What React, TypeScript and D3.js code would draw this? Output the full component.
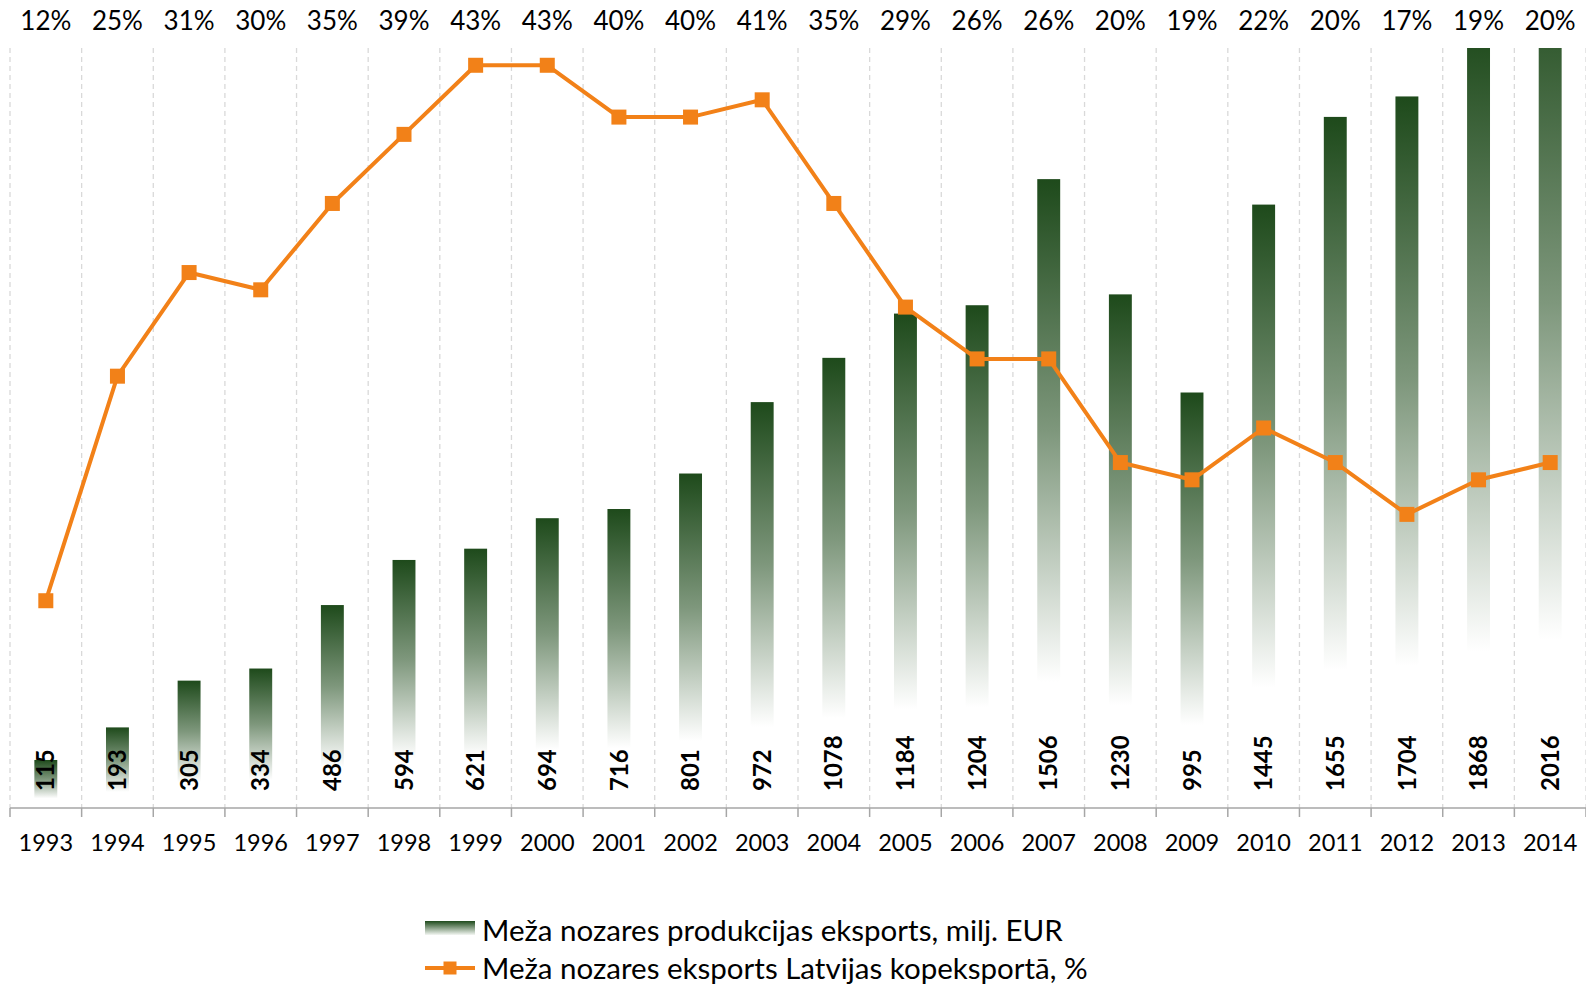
import React, { useEffect, useRef } from 'react';
import * as d3 from 'd3';

const years = ['1993', '1994', '1995', '1996', '1997', '1998', '1999', '2000', '2001', '2002', '2003',
  '2004', '2005', '2006', '2007', '2008', '2009', '2010', '2011', '2012', '2013', '2014'];

// Meža nozares produkcijas eksports, milj. EUR
const exportValues = [115, 193, 305, 334, 486, 594, 621, 694, 716, 801, 972,
  1078, 1184, 1204, 1506, 1230, 995, 1445, 1655, 1704, 1868, 2016];

// Meža nozares eksports Latvijas kopeksportā, %
const sharePercent = [12, 25, 31, 30, 35, 39, 43, 43, 40, 40, 41,
  35, 29, 26, 26, 20, 19, 22, 20, 17, 19, 20];

const barLegend = 'Meža nozares produkcijas eksports, milj. EUR';
const lineLegend = 'Meža nozares eksports Latvijas kopeksportā, %';

const W = 1586, H = 985;
const FONT = 'Lato, "Noto Sans", sans-serif';
const GREEN = '#1e4a1b';
const ORANGE = '#f28118';

export default function App() {
  const ref = useRef<SVGSVGElement>(null);

  useEffect(() => {
    const svg = d3.select(ref.current);
    svg.selectAll('*').remove();

    const top = 48, bottom = 808, left = 10, right = 1586;

    const x = d3.scaleBand<string>().domain(years).range([left, right]).paddingInner(0);
    const yBar = d3.scaleLinear().domain([0, 1820]).range([bottom, top]);
    const yLine = d3.scaleLinear().domain([0, 44]).range([bottom, top]);
    const cx = (d: string) => (x(d) as number) + x.bandwidth() / 2;

    const defs = svg.append('defs');
    const grad = defs.append('linearGradient')
      .attr('id', 'barGrad')
      .attr('x1', 0).attr('y1', 0).attr('x2', 0).attr('y2', 1);
    grad.append('stop').attr('offset', '0%').attr('stop-color', GREEN);
    grad.append('stop').attr('offset', '40%').attr('stop-color', '#7e977c');
    grad.append('stop').attr('offset', '80%').attr('stop-color', '#ffffff');
    grad.append('stop').attr('offset', '100%').attr('stop-color', '#ffffff');

    const legGrad = defs.append('linearGradient')
      .attr('id', 'legGrad')
      .attr('x1', 0).attr('y1', 0).attr('x2', 0).attr('y2', 1);
    legGrad.append('stop').attr('offset', '0%').attr('stop-color', GREEN);
    legGrad.append('stop').attr('offset', '100%').attr('stop-color', '#f4f7f3');

    defs.append('clipPath').attr('id', 'plotClip')
      .append('rect')
      .attr('x', left).attr('y', top)
      .attr('width', right - left).attr('height', bottom - top);

    // category gridlines (dashed) at band boundaries
    const bounds = years.map(d => x(d) as number).concat([right]);
    svg.append('g')
      .selectAll('line')
      .data(bounds)
      .enter()
      .append('line')
      .attr('x1', d => d).attr('x2', d => d)
      .attr('y1', top).attr('y2', bottom)
      .attr('stroke', '#d9d9d9')
      .attr('stroke-width', 1.3)
      .attr('stroke-dasharray', '5,4');

    // bars
    const barW = x.bandwidth() * 0.32;
    svg.append('g')
      .attr('clip-path', 'url(#plotClip)')
      .selectAll('rect')
      .data(exportValues)
      .enter()
      .append('rect')
      .attr('x', (d, i) => cx(years[i]) - barW / 2)
      .attr('y', d => yBar(d))
      .attr('width', barW)
      .attr('height', d => bottom - yBar(d))
      .attr('fill', 'url(#barGrad)');

    // axis line + ticks
    svg.append('line')
      .attr('x1', left).attr('x2', right)
      .attr('y1', bottom).attr('y2', bottom)
      .attr('stroke', '#a6a6a6').attr('stroke-width', 1.5);
    svg.append('g')
      .selectAll('line')
      .data(bounds)
      .enter()
      .append('line')
      .attr('x1', d => d).attr('x2', d => d)
      .attr('y1', bottom).attr('y2', bottom + 9)
      .attr('stroke', '#a6a6a6').attr('stroke-width', 1.5);

    // year labels
    svg.append('g')
      .selectAll('text')
      .data(years)
      .enter()
      .append('text')
      .attr('x', d => cx(d))
      .attr('y', 851)
      .attr('text-anchor', 'middle')
      .attr('font-family', FONT)
      .attr('font-size', 23.5)
      .attr('fill', '#000')
      .text(d => d);

    // value labels (rotated)
    svg.append('g')
      .selectAll('text')
      .data(exportValues)
      .enter()
      .append('text')
      .attr('transform', (d, i) => `translate(${cx(years[i])},791) rotate(-90)`)
      .attr('dy', '0.36em')
      .attr('font-family', FONT)
      .attr('font-size', 24)
      .attr('font-weight', 'bold')
      .attr('fill', '#000')
      .text(d => d);

    // line
    const line = d3.line<number>()
      .x((d, i) => cx(years[i]))
      .y(d => yLine(d));
    svg.append('path')
      .datum(sharePercent)
      .attr('d', line)
      .attr('fill', 'none')
      .attr('stroke', ORANGE)
      .attr('stroke-width', 4)
      .attr('stroke-linejoin', 'round');

    const m = 15;
    svg.append('g')
      .selectAll('rect')
      .data(sharePercent)
      .enter()
      .append('rect')
      .attr('x', (d, i) => cx(years[i]) - m / 2)
      .attr('y', d => yLine(d) - m / 2)
      .attr('width', m).attr('height', m)
      .attr('fill', ORANGE);

    // percentage labels at the top
    svg.append('g')
      .selectAll('text')
      .data(sharePercent)
      .enter()
      .append('text')
      .attr('x', (d, i) => cx(years[i]))
      .attr('y', 30)
      .attr('text-anchor', 'middle')
      .attr('font-family', FONT)
      .attr('font-size', 26)
      .attr('fill', '#000')
      .text(d => d + '%');

    // legend
    const lg = svg.append('g');
    lg.append('rect')
      .attr('x', 425).attr('y', 921)
      .attr('width', 50).attr('height', 14)
      .attr('fill', 'url(#legGrad)');
    lg.append('text')
      .attr('x', 482).attr('y', 941)
      .attr('font-family', FONT).attr('font-size', 29.5)
      .text(barLegend);
    lg.append('line')
      .attr('x1', 425).attr('x2', 475)
      .attr('y1', 968).attr('y2', 968)
      .attr('stroke', ORANGE).attr('stroke-width', 4);
    lg.append('rect')
      .attr('x', 450 - 6.5).attr('y', 968 - 6.5)
      .attr('width', 13).attr('height', 13)
      .attr('fill', ORANGE);
    lg.append('text')
      .attr('x', 482).attr('y', 979)
      .attr('font-family', FONT).attr('font-size', 29.5)
      .text(lineLegend);
  }, []);

  return (
    <svg
      ref={ref}
      width={W}
      height={H}
      style={{ position: 'absolute', left: 0, top: 0, background: '#fff', display: 'block' }}
    />
  );
}
